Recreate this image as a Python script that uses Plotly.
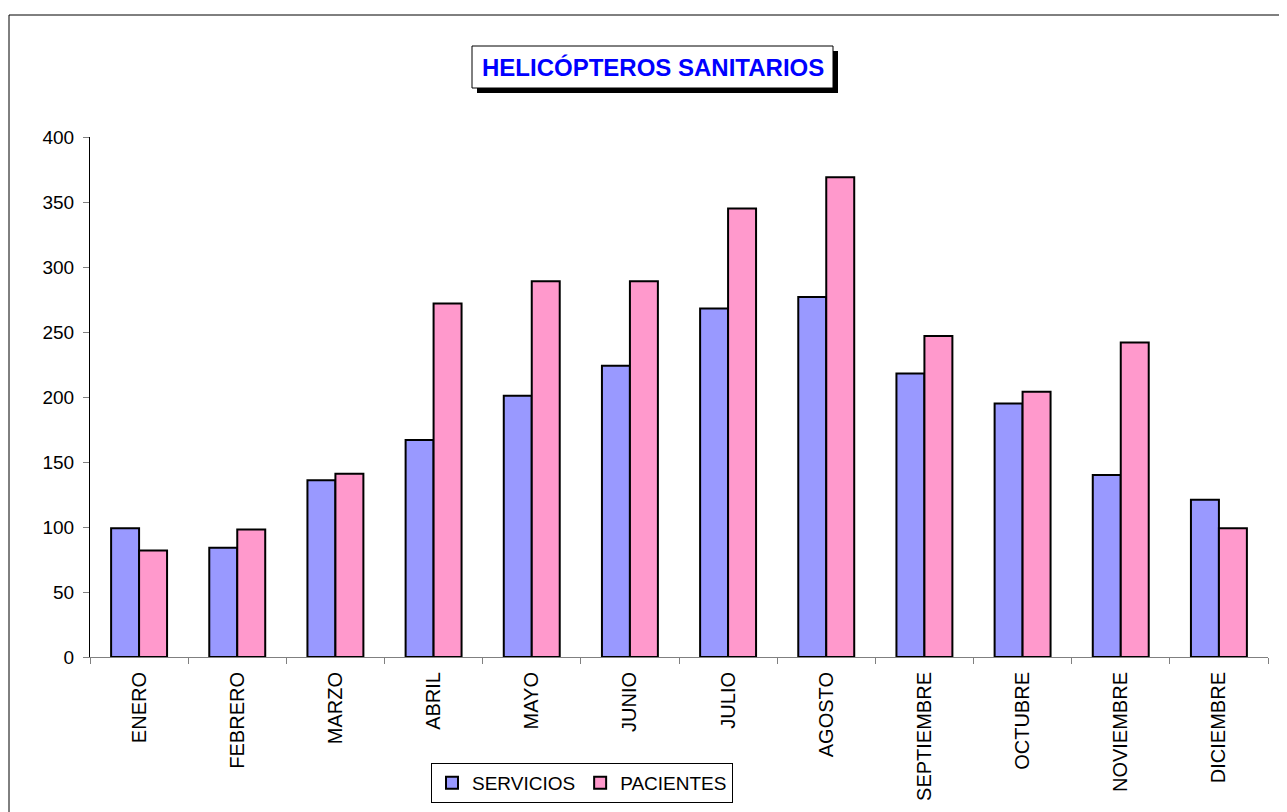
import plotly.graph_objects as go

meses = ['ENERO', 'FEBRERO', 'MARZO', 'ABRIL', 'MAYO', 'JUNIO', 'JULIO',
         'AGOSTO', 'SEPTIEMBRE', 'OCTUBRE', 'NOVIEMBRE', 'DICIEMBRE']
servicios = [99, 84, 136, 167, 201, 224, 268, 277, 218, 195, 140, 121]
pacientes = [82, 98, 141, 272, 289, 289, 345, 369, 247, 204, 242, 99]

font = 'Liberation Sans, Arial, sans-serif'

fig = go.Figure()
fig.add_trace(go.Bar(
    x=meses, y=servicios, name='SERVICIOS',
    marker=dict(color='#9999FF', line=dict(color='black', width=2))
))
fig.add_trace(go.Bar(
    x=meses, y=pacientes, name='PACIENTES',
    marker=dict(color='#FF99CC', line=dict(color='black', width=2))
))

# plot area on the page: x 90..1268, y 137..657 (page has an 8px body margin)
def px(x):
    return (x - 90) / 1178

def py(y):
    return (657 - y) / 520

shapes = [
    # outer chart frame
    dict(type='rect', xref='paper', yref='paper', x0=px(9), x1=px(1300),
         y0=py(830), y1=py(15), line=dict(color='black', width=1)),
    # title shadow and box
    dict(type='rect', xref='paper', yref='paper', x0=px(477), x1=px(838),
         y0=py(93), y1=py(51), fillcolor='black', line=dict(width=0)),
    dict(type='rect', xref='paper', yref='paper', x0=px(472), x1=px(833),
         y0=py(88), y1=py(46), fillcolor='white', line=dict(color='black', width=1)),
]

fig.update_layout(
    width=1287, height=812,
    margin=dict(l=82, r=27, t=129, b=163),
    paper_bgcolor='white', plot_bgcolor='white',
    font=dict(family=font, size=20, color='black'),
    barmode='group', bargap=0.43, bargroupgap=0,
    shapes=shapes,
    annotations=[dict(
        text='<b>HELICÓPTEROS SANITARIOS</b>', xref='paper', yref='paper',
        x=px(652.5), y=py(67), xanchor='center', yanchor='middle', showarrow=False,
        font=dict(family=font, size=24, color='#0000FF')
    )],
    legend=dict(
        orientation='h', x=px(582), y=py(783), xanchor='center', yanchor='middle',
        bordercolor='black', borderwidth=1, bgcolor='white',
        font=dict(family=font, size=19), itemwidth=30, tracegroupgap=0
    ),
    xaxis=dict(
        showline=True, linecolor='#808080', linewidth=1,
        ticks='outside', tickson='boundaries', ticklen=6, tickcolor='#808080',
        tickangle=-90, tickfont=dict(size=20), ticklabelstandoff=6, showgrid=False
    ),
    yaxis=dict(
        range=[0, 400], dtick=50, showline=True, linecolor='black', linewidth=1,
        ticks='outside', ticklen=6, tickcolor='#808080', showgrid=False,
        zeroline=False, tickfont=dict(size=19), ticklabelstandoff=5
    ),
)

fig.write_html('out.html')
